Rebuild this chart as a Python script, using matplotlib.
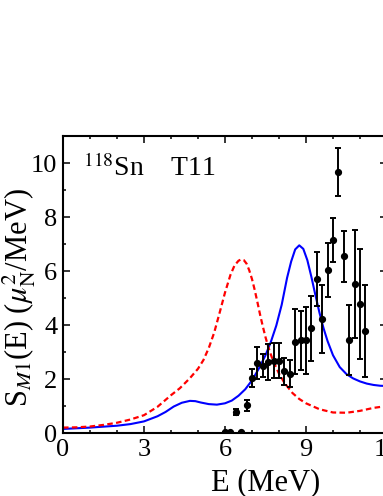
import numpy as np
import matplotlib
matplotlib.use('Agg')
import matplotlib.pyplot as plt
from matplotlib.ticker import MultipleLocator

plt.rcParams['font.family'] = ['Liberation Serif', 'DejaVu Serif']
plt.rcParams['mathtext.fontset'] = 'stix'

# experimental points (E in MeV, S_M1, error)
e_exp = [6.0, 6.2, 6.4, 6.6, 6.8, 7.0, 7.2, 7.4, 7.6, 7.8, 8.0, 8.2, 8.4,
         8.6, 8.8, 9.0, 9.2, 9.4, 9.6, 9.8, 10.0, 10.2, 10.4, 10.6, 10.8, 11.0, 11.2]
s_exp = [0.02, 0.02, 0.78, 0.02, 1.02, 2.04, 2.59, 2.50, 2.63, 2.68, 2.68, 2.28, 2.19,
         3.38, 3.43, 3.43, 3.88, 5.71, 4.23, 6.03, 7.15, 9.67, 6.55, 3.45, 5.53, 4.78, 3.79]
s_err = [0.0, 0.0, 0.1, 0.0, 0.2, 0.32, 0.6, 0.43, 0.66, 0.66, 0.66, 0.5, 0.5,
         1.2, 1.1, 1.25, 1.2, 1.0, 1.25, 1.0, 0.82, 0.88, 0.94, 1.3, 2.0, 2.05, 1.7]

# T11 calculation (blue solid)
e_blue = [0, 1, 2, 2.5, 3, 3.5, 3.8, 4.1, 4.4, 4.7, 4.9, 5.1, 5.4, 5.7, 6.0, 6.25,
          6.5, 6.75, 7.0, 7.25, 7.5, 7.7, 7.9, 8.1, 8.3, 8.45, 8.6, 8.75, 8.9, 9.05,
          9.2, 9.35, 9.5, 9.65, 9.8, 10.0, 10.25, 10.5, 10.75, 11.0, 11.25, 11.5,
          11.75, 12.0]
s_blue = [0.15, 0.2, 0.27, 0.33, 0.43, 0.62, 0.78, 0.98, 1.12, 1.19, 1.18, 1.13,
          1.07, 1.05, 1.1, 1.2, 1.38, 1.62, 1.95, 2.38, 2.88, 3.38, 3.98, 4.75, 5.75,
          6.35, 6.8, 6.95, 6.82, 6.4, 5.78, 5.1, 4.45, 3.88, 3.4, 2.88, 2.44, 2.18,
          2.02, 1.91, 1.83, 1.78, 1.75, 1.74]

# red dashed curve
e_red = [0, 0.5, 1, 1.5, 2, 2.5, 3, 3.5, 4.0, 4.33, 4.7, 5.0, 5.2, 5.4, 5.6, 5.8,
         6.0, 6.2, 6.35, 6.5, 6.6, 6.7, 6.8, 6.9, 7.0, 7.1, 7.2, 7.3, 7.4, 7.5, 7.6,
         7.7, 7.8, 8.0, 8.2, 8.5, 8.75, 9.0, 9.5, 10.0, 10.5, 11.0, 11.5, 12.0]
s_red = [0.2, 0.21, 0.24, 0.3, 0.38, 0.5, 0.66, 0.97, 1.4, 1.66, 2.03, 2.38, 2.7,
         3.15, 3.72, 4.45, 5.2, 5.85, 6.2, 6.38, 6.43, 6.4, 6.27, 6.02, 5.7, 5.3,
         4.85, 4.38, 3.95, 3.55, 3.2, 2.9, 2.63, 2.2, 1.86, 1.48, 1.26, 1.1, 0.88,
         0.76, 0.75, 0.82, 0.93, 1.0]

fig = plt.figure(figsize=(3.83, 4.96), dpi=100)
ax = fig.add_axes([63/383, 1 - 433/496, 324/383, 297/496])

ax.plot(e_blue, s_blue, '-', color='blue', lw=1.5)
ax.plot(e_red, s_red, '--', color='red', lw=1.6, dashes=(2.5, 1.5))
ax.errorbar(e_exp, s_exp, yerr=s_err, fmt='o', color='black', ms=4.2,
            elinewidth=1.4, capsize=1.9, capthick=1.4)

ax.set_xlim(0, 12)
ax.set_ylim(0, 11)
ax.xaxis.set_major_locator(MultipleLocator(3))
ax.xaxis.set_minor_locator(MultipleLocator(1))
ax.yaxis.set_major_locator(MultipleLocator(2))
ax.yaxis.set_minor_locator(MultipleLocator(1))
ax.tick_params(which='both', direction='in', top=True, right=True, width=1.1,
               labelsize=19, pad=4)
ax.tick_params(which='major', length=5)
ax.tick_params(which='minor', length=2.5)
for sp in ax.spines.values():
    sp.set_linewidth(1.5)

ax.set_xlabel('E (MeV)', fontsize=22)
ax.xaxis.set_label_coords((266 - 63) / 324, (433 - 468) / 297)
ax.set_ylabel(r'S$_{M1}$(E) ($\mu_{\rm N}^2$/MeV)', fontsize=22)
ax.yaxis.set_label_coords((38 - 63) / 324, 0.455)

ax.text(0.062, 0.865, r'$^{118}$Sn    T11', transform=ax.transAxes,
        fontsize=20, va='baseline', ha='left')

fig.savefig('out.png', dpi=100)
